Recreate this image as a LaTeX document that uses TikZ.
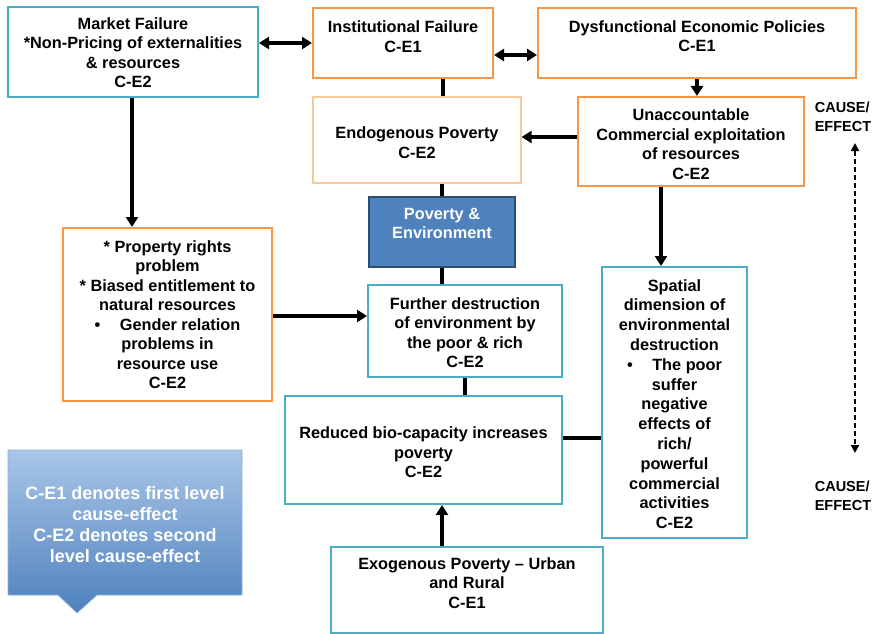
\documentclass[tikz,border=0pt]{standalone}
\usepackage{fontspec}
\setmainfont{Liberation Sans}
\usetikzlibrary{arrows.meta}
\definecolor{boxorange}{HTML}{F79646}
\definecolor{boxblue}{HTML}{4BACC6}
\definecolor{paleorange}{HTML}{F9C89B}
\definecolor{pefill}{HTML}{4F81BD}
\definecolor{peborder}{HTML}{2C4D75}
\definecolor{calltop}{HTML}{A9C6E8}
\definecolor{callbot}{HTML}{4F81BD}
\tikzset{
  obox/.style={draw=boxorange, line width=2pt, fill=white, inner sep=0pt},
  bbox/.style={draw=boxblue, line width=2pt, fill=white, inner sep=0pt},
  txt/.style={font=\bfseries\fontsize{16.3}{19.5}\selectfont, align=center, inner sep=0pt},
  conn/.style={line width=3.5pt},
  arr/.style={conn, -{Triangle[length=10pt,width=12pt]}},
  darr/.style={conn, {Triangle[length=10pt,width=12pt]}-{Triangle[length=10pt,width=12pt]}},
  dasharr/.style={line width=2.6pt, dash pattern=on 5.5pt off 2.5pt, {Triangle[length=8pt,width=8pt]}-{Triangle[length=8pt,width=8pt]}},
  celabel/.style={font=\bfseries\fontsize{14.5}{19}\selectfont, align=left, inner sep=0pt},
}
\begin{document}
\begin{tikzpicture}[x=1pt,y=-1pt]
\useasboundingbox (0,0) rectangle (876,634);
\fill[white] (0,0) rectangle (876,634);

% boxes
\node[bbox, minimum width=250pt, minimum height=90pt] (mf) at (133,52) {};
\node[obox, minimum width=180pt, minimum height=70pt] (inf) at (403,43) {};
\node[obox, minimum width=318pt, minimum height=70pt] (dys) at (697,43) {};
\node[draw=paleorange, line width=1.2pt, fill=white, inner sep=0pt, minimum width=208pt, minimum height=86pt] (endo) at (417,140) {};
\node[obox, minimum width=226pt, minimum height=89pt] (una) at (691,141.5) {};
\node[draw=peborder, line width=1.5pt, fill=pefill, inner sep=0pt, minimum width=146pt, minimum height=70pt] (pe) at (442,232) {};
\node[obox, minimum width=209pt, minimum height=173pt] (prop) at (167.5,314.5) {};
\node[bbox, minimum width=194pt, minimum height=92pt] (fd) at (465,331) {};
\node[bbox, minimum width=145pt, minimum height=271pt] (sd) at (674.5,402.5) {};
\node[bbox, minimum width=277pt, minimum height=108pt] (red) at (423.5,450) {};
\node[bbox, minimum width=272pt, minimum height=86pt] (exo) at (467,590) {};

% texts
\node[txt] (mft) at (133,52.5) {Market Failure\\*Non-Pricing of externalities\\\& resources\\C-E2};
\node[txt] (inft) at (403,36.5) {Institutional Failure\\C-E1};
\node[txt] (dyst) at (697,36) {Dysfunctional Economic Policies\\C-E1};
\node[txt] (endot) at (417,142.5) {Endogenous Poverty\\C-E2};
\node[txt] (unat) at (691,144) {Unaccountable\\Commercial exploitation\\of resources\\C-E2};
\node[txt, text=white] (pet) at (442,223.5) {Poverty \&\\Environment};
\node[txt] (propt) at (167.5,314.5) {* Property rights\\problem\\* Biased entitlement to\\natural resources\\\textbullet\hspace{1.2em}Gender relation\\problems in\\resource use\\C-E2};
\node[txt] (fdt) at (465,332.5) {Further destruction\\of environment by\\the poor \& rich\\C-E2};
\node[txt, font=\bfseries\fontsize{16.3}{19.8}\selectfont] (sdt) at (674.5,404) {Spatial\\dimension of\\environmental\\destruction\\\textbullet\hspace{1.2em}The poor\\suffer\\negative\\effects of\\rich/\\powerful\\commercial\\activities\\C-E2};
\node[txt] (redt) at (423.5,452.5) {Reduced bio-capacity increases\\poverty\\C-E2};
\node[txt] (exot) at (467,583) {Exogenous Poverty -- Urban\\and Rural\\C-E1};

% callout
\path[top color=calltop, bottom color=callbot, draw=calltop!70!callbot, line width=0.6pt]
  (8,450) -- (242,450) -- (242,595) -- (97,595) -- (77,613) -- (58,595) -- (8,595) -- cycle;
\node[txt, text=white, font=\bfseries\fontsize{18}{21}\selectfont] (callt) at (125,524.5) {C-E1 denotes first level\\cause-effect\\C-E2 denotes second\\level cause-effect};

% cause/effect
\node[celabel] (ce1) at (843,116.5) {CAUSE/\\EFFECT};
\node[celabel] (ce2) at (843,495.5) {CAUSE/\\EFFECT};
\coordinate (cetop) at (855,143);
\coordinate (cebot) at (855,453);
\draw[dasharr] (cetop) -- (cebot);

% connectors
\draw[darr] (mf.east |- 0,43) -- (inf.west |- 0,43);
\draw[darr] (inf.east |- 0,55) -- (dys.west |- 0,55);
\draw[arr] (dys.south -| 697,0) -- (una.north -| 697,0);
\draw[conn] (inf.south -| 443,0) -- (endo.north -| 443,0);
\draw[arr] (una.west |- 0,137) -- (endo.east |- 0,137);
\draw[conn] (endo.south -| pe.north) -- (pe.north);
\draw[conn] (pe.south) -- (fd.north -| pe.south);
\draw[arr] (mf.south -| 132,0) -- (prop.north -| 132,0);
\draw[arr] (prop.east |- 0,316) -- (fd.west |- 0,316);
\draw[arr] (una.south -| 661,0) -- (sd.north -| 661,0);
\draw[conn] (fd.south) -- (red.north -| fd.south);
\draw[conn] (red.east |- 0,438) -- (sd.west |- 0,438);
\draw[arr] (exo.north -| 442,0) -- (red.south -| 442,0);
\end{tikzpicture}
\end{document}
